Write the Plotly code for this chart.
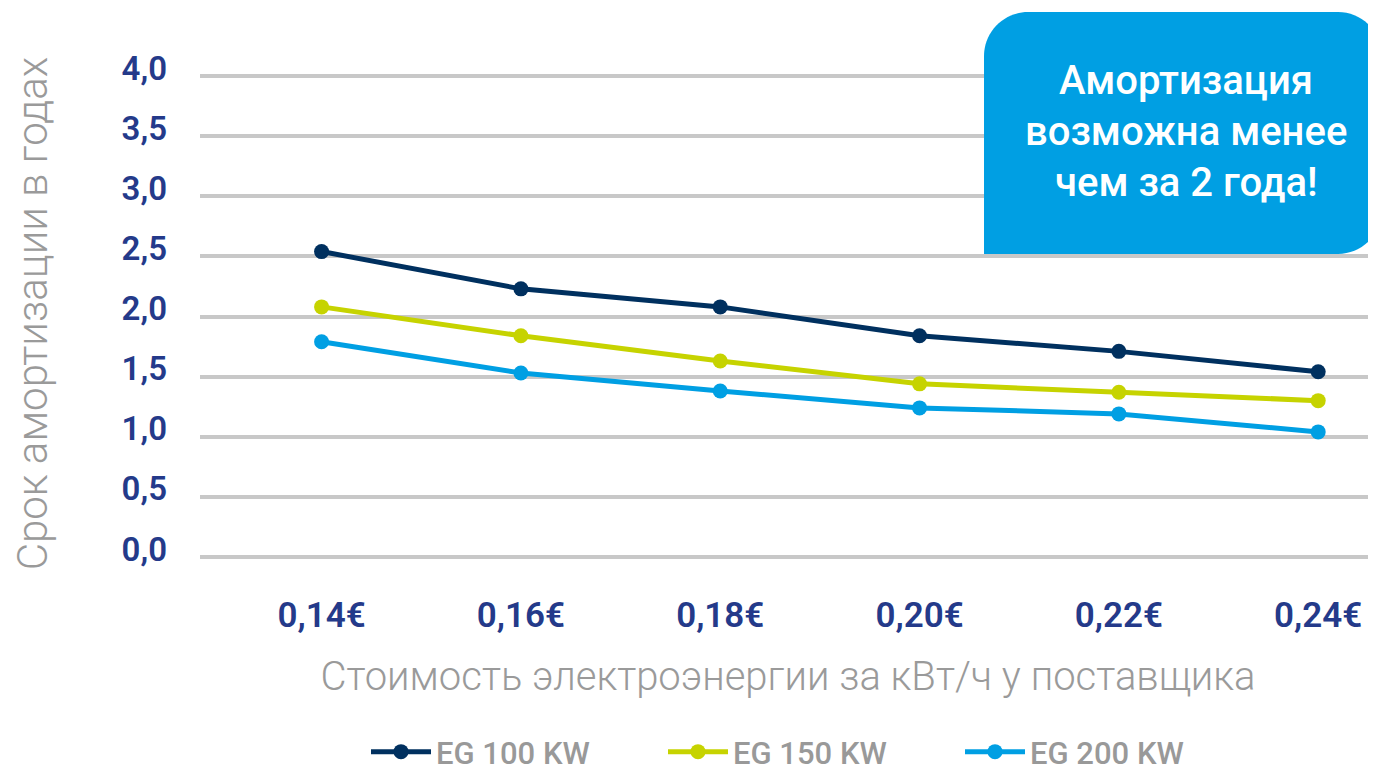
import plotly.graph_objects as go

categories = ["0,14€", "0,16€", "0,18€", "0,20€", "0,22€", "0,24€"]
eg100 = [2.54, 2.23, 2.08, 1.84, 1.71, 1.54]
eg150 = [2.08, 1.84, 1.63, 1.44, 1.37, 1.30]
eg200 = [1.79, 1.53, 1.38, 1.24, 1.19, 1.04]
series_names = ["EG 100 KW", "EG 150 KW", "EG 200 KW"]
y_tickvals = [0, 0.5, 1.0, 1.5, 2.0, 2.5, 3.0, 3.5, 4.0]
y_ticktext = ["0,0", "0,5", "1,0", "1,5", "2,0", "2,5", "3,0", "3,5", "4,0"]
callout_lines = ["Амортизация", "возможна менее", "чем за 2 года!"]

colors = ["#00305f", "#c6d300", "#009fe3"]
OFF = 8  # default page body margin
W, H = 1376 - OFF, 774 - OFF
ML, MT = 200 - OFF, 46 - OFF
MR = 0
MB = H - (581 - OFF)
PW, PH = W - ML - MR, H - MT - MB

fig = go.Figure()
for name, vals, c in zip(series_names, [eg100, eg150, eg200], colors):
    fig.add_trace(go.Scatter(
        x=categories, y=vals, name=name, mode="lines+markers",
        line=dict(color=c, width=5), marker=dict(color=c, size=15),
    ))


def px2paper(x, y):
    # page pixel -> paper coordinates
    fx, fy = x - OFF, y - OFF
    return (fx - ML) / PW, (H - MB - fy) / PH


def box_path(x0, y0, x1, y1, r):
    k = 0.55 * r
    pts = []
    def P(cmd, *xy):
        s = cmd
        for i in range(0, len(xy), 2):
            px, py = px2paper(xy[i], xy[i + 1])
            s += f" {px:.5f},{py:.5f}"
        pts.append(s)
    P("M", x0, y1)
    P("L", x0, y0 + r)
    P("C", x0, y0 + r - k, x0 + r - k, y0, x0 + r, y0)
    P("L", x1 - r, y0)
    P("C", x1 - r + k, y0, x1, y0 + r - k, x1, y0 + r)
    P("L", x1, y1 - r)
    P("C", x1, y1 - r + k, x1 - r + k, y1, x1 - r, y1)
    P("Z")
    return " ".join(pts)


fig.add_shape(type="path", xref="paper", yref="paper",
              path=box_path(984, 12, 1382, 254, 44),
              fillcolor="#009fe3", line=dict(width=0), layer="above")

line_y = [80, 131, 182]
for t, yy in zip(callout_lines, line_y):
    px, py = px2paper(1186, yy)
    fig.add_annotation(text=t, x=px, y=py, xref="paper", yref="paper",
                       showarrow=False, xanchor="center", yanchor="middle",
                       font=dict(family="Roboto", size=40, color="white", weight=500))

fig.update_layout(
    width=W, height=H,
    margin=dict(l=ML, r=MR, t=MT, b=MB, autoexpand=False),
    paper_bgcolor="white", plot_bgcolor="white",
    showlegend=True,
    legend=dict(orientation="h", xref="container", yref="container",
                x=(366 - OFF) / W, xanchor="left",
                y=(H - (752 - OFF)) / H, yanchor="middle",
                entrywidth=222, entrywidthmode="pixels",
                font=dict(family="Roboto", size=31, color="#999999", weight=500),
                itemwidth=60, bgcolor="rgba(0,0,0,0)"),
    xaxis=dict(type="category", range=[-0.61, 5.29], showgrid=False, zeroline=False,
               showline=False, ticks="", automargin=False, ticklabelstandoff=10,
               tickfont=dict(family="Roboto", size=35, color="#243a8a", weight=600),
               title=dict(text="Стоимость электроэнергии за кВт/ч у поставщика",
                          font=dict(family="Roboto", size=40, color="#9a9a9a", weight=300),
                          standoff=26)),
    yaxis=dict(range=[-0.2, 4.25], tickvals=y_tickvals, ticktext=y_ticktext,
               showgrid=True, gridcolor="#c8c8c8", gridwidth=4, zeroline=False,
               showline=False, ticks="", ticklabelshift=-8, ticklabelstandoff=32,
               automargin=False,
               tickfont=dict(family="Roboto", size=33, color="#243a8a", weight=600),
               title=dict(text="Срок амортизации в годах",
                          font=dict(family="Roboto", size=42, color="#9a9a9a", weight=300),
                          standoff=64)),
)

fig.write_html("out.html")
